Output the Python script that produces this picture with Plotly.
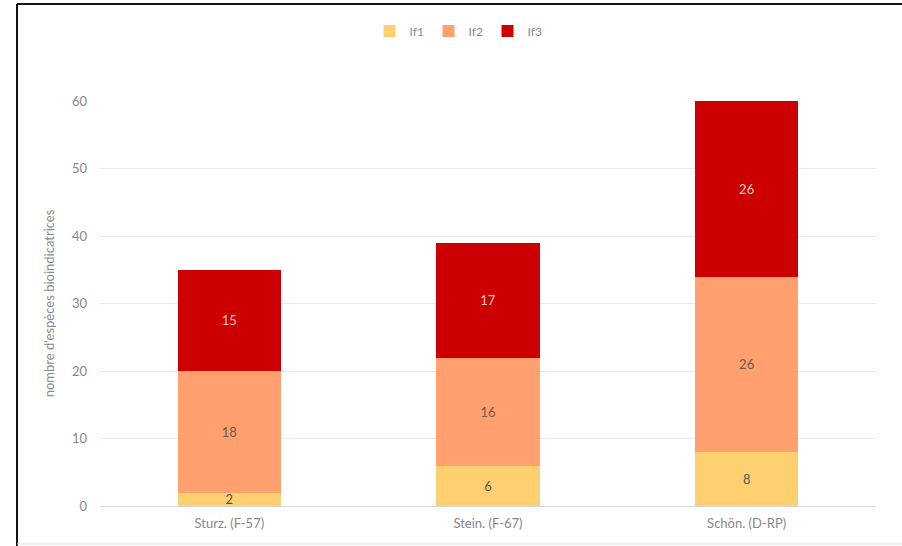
import plotly.graph_objects as go

categories = ["Sturz. (F-57)", "Stein. (F-67)", "Schön. (D-RP)"]
if1 = [2, 6, 8]
if2 = [18, 16, 26]
if3 = [15, 17, 26]
series_names = ["If1", "If2", "If3"]
colors = ["#FFD070", "#FFA06E", "#CC0000"]
text_colors = ["#555555", "#6a5a50", "#F4C8C8"]
y_ticks = [0, 10, 20, 30, 40, 50, 60]

FONT = "Lato, Open Sans, sans-serif"

fig = go.Figure()
for name, vals, c, tc in zip(series_names, [if1, if2, if3], colors, text_colors):
    fig.add_trace(go.Bar(
        name=name, x=categories, y=vals, marker=dict(color=c, line=dict(width=0)),
        text=[str(v) for v in vals], textposition="inside", insidetextanchor="middle",
        constraintext="none",
        textfont=dict(color=tc, size=13, family=FONT), textangle=0,
        hoverinfo="x+y+name",
    ))

L, R, T, B = 100, 26, 101, 40
W, H = 902, 546
pw, ph = W - L - R, H - T - B

def px(x):
    return (x - L) / pw

def py(y):
    return (H - B - y) / ph

shapes = [
    dict(type="line", xref="paper", yref="paper", x0=px(17), x1=px(17), y0=py(4), y1=py(546),
         line=dict(color="#111111", width=2)),
    dict(type="line", xref="paper", yref="paper", x0=px(17), x1=px(902), y0=py(4), y1=py(4),
         line=dict(color="#111111", width=2)),
    dict(type="line", xref="paper", yref="paper", x0=px(17), x1=px(902), y0=py(544), y1=py(544),
         line=dict(color="#dddddd", width=1)),
]

fig.update_layout(
    width=W, height=H,
    barmode="stack", bargap=0.6,
    plot_bgcolor="white", paper_bgcolor="white",
    margin=dict(l=L, r=R, t=T, b=B, autoexpand=False),
    font=dict(family=FONT, color="#888888", size=13),
    legend=dict(orientation="h", x=0.5 - 30 / pw, xanchor="center", y=py(31), yanchor="middle",
                font=dict(size=12, color="#888888"), traceorder="normal",
                itemwidth=30, entrywidth=14, entrywidthmode="pixels"),
    xaxis=dict(showgrid=False, showline=False, ticks="", ticklabelstandoff=8,
               tickfont=dict(size=13, color="#888888")),
    yaxis=dict(range=[0, 60], tickvals=y_ticks, showgrid=True, gridcolor="#e8e8e8", gridwidth=1,
               zeroline=True, zerolinecolor="#d8d8d8", zerolinewidth=1, showline=False,
               ticks="", ticklen=0, ticklabelstandoff=12, tickfont=dict(size=13, color="#888888"),
               title=dict(text="nombre d'espèces bioindicatrices", font=dict(size=13, color="#888888"),
                          standoff=14)),
    shapes=shapes,
    showlegend=True,
)

fig.write_html("out.html", config={"displayModeBar": False})
with open("out.html", encoding="utf-8") as f:
    html = f.read()
html = html.replace("<body>", '<body style="margin:0;padding:0;overflow:hidden">', 1)
with open("out.html", "w", encoding="utf-8") as f:
    f.write(html)
